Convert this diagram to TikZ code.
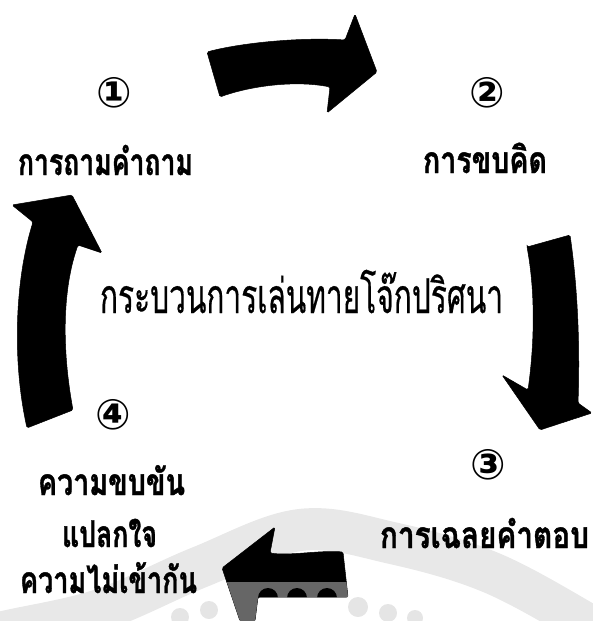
\documentclass[tikz,border=0pt]{standalone}
\usepackage{fontspec}
\usepackage{graphicx}
\newfontfamily\thaifont[Script=Thai, FakeBold=0.6]{Loma}
\newfontfamily\thaiheavy[Script=Thai, BoldFeatures={FakeBold=1.2}]{Loma}
\newfontfamily\symfont{DejaVu Sans}
\tikzset{
  lbl/.style={font=\thaiheavy\bfseries\fontsize{37}{39}\selectfont, inner sep=0pt, anchor=base},
  ttl/.style={font=\thaifont\fontsize{48}{50}\selectfont, inner sep=0pt, anchor=base},
  num/.style={font=\symfont\bfseries\fontsize{42}{44}\selectfont, inner sep=0pt, anchor=center},
  bigarrow/.style={fill=black, draw=black, line width=0.5pt, rounded corners=1.5pt},
  wm/.style={gray!18},
}
\begin{document}
\begin{tikzpicture}[x=1pt,y=-1pt]
\useasboundingbox (0,0) rectangle (592,621);
% watermark band
\draw[wm, line width=42pt, line cap=round] plot[smooth, tension=0.6] coordinates {(-30,645) (0,633) (100,610) (200,567) (300,530) (392,543) (492,573) (592,627) (620,645)};
% arrows
\fill[bigarrow] (207,52) .. controls (240,43) and (300,37) .. (345,40) -- (355,14) -- (377,72) -- (327,113) -- (330,87) .. controls (295,80) and (250,86) .. (220,97) -- cycle;
\fill[bigarrow] (527,247) -- (570,235) .. controls (578,290) and (580,350) .. (578,403) -- (592,413) -- (540,430) -- (502,375) -- (528,390) .. controls (535,340) and (535,290) .. cycle;
\fill[bigarrow] (27,428) .. controls (12,360) and (15,280) .. (33,222) -- (12,205) -- (72,195) -- (102,253) -- (78,245) .. controls (62,290) and (62,350) .. (73,410) -- cycle;
\fill[bigarrow] (222,568) -- (240,621) -- (255,621) -- (258,597) -- (348,597) -- (343,552) .. controls (320,550) and (290,556) .. (270,553) -- (275,527) -- cycle;
% watermark over arrow
\begin{scope}
\clip (222,568) -- (240,621) -- (255,621) -- (258,597) -- (348,597) -- (343,552) -- (270,553) -- (275,527) -- cycle;
\fill[gray!80!black] (200,582) rectangle (360,621);
\foreach \x in {268,297,327} \fill[black] (\x,598) circle (10pt);
\end{scope}
\foreach \x/\y/\r in {180/617/9, 209/610/9, 358/607/10, 388/613/9, 415/618/8} \fill[gray!20] (\x,\y) circle (\r pt);
% numbers
\node[num] (n1) at (114,93) {①};
\node[num] (n2) at (487,93) {②};
\node[num] (n3) at (488,465) {③};
\node[num] (n4) at (113,415) {④};
% labels
\node[lbl] (l1) at (105.5,175) {\resizebox{175pt}{\height}{การถามคำถาม}};
\node[lbl] (l2) at (485,173) {\resizebox{124pt}{\height}{การขบคิด}};
\node[ttl] (t) at (301.5,313) {\resizebox{403pt}{\height}{กระบวนการเล่นทายโจ๊กปริศนา}};
\node[lbl] (l4a) at (111.5,495) {\resizebox{147pt}{\height}{ความขบขัน}};
\node[lbl] (l4b) at (109.5,547) {\resizebox{95pt}{\height}{แปลกใจ}};
\node[lbl] (l4c) at (108.5,593) {\resizebox{177pt}{\height}{ความไม่เข้ากัน}};
\node[lbl] (l3) at (484.5,548) {\resizebox{209pt}{\height}{การเฉลยคำตอบ}};
\end{tikzpicture}
\end{document}
